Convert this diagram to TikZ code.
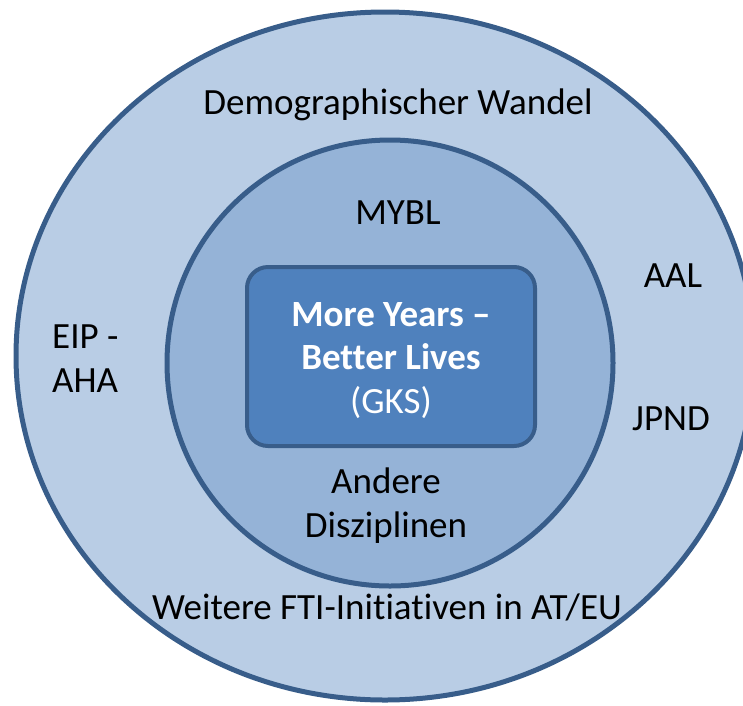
\documentclass[tikz,border=0pt]{standalone}
\usepackage{fontspec}
\setmainfont[Ligatures=NoCommon]{Carlito}
\usepackage{tikz}

\definecolor{ringouter}{HTML}{B9CDE5}
\definecolor{ringinner}{HTML}{95B3D7}
\definecolor{corefill}{HTML}{4F81BD}
\definecolor{ringline}{HTML}{385D8A}

\begin{document}
\begin{tikzpicture}[x=1pt, y=-1pt,
    lbl/.style={font=\fontsize{37}{43.5}\selectfont, inner sep=0pt, anchor=base}]

    \useasboundingbox (0,0) rectangle (743,705);

    % Outer ring: the wider context
    \draw[line width=5, ringline, fill=ringouter] (385,356) ellipse [x radius=369, y radius=344];

    % Inner ring
    \draw[line width=5, ringline, fill=ringinner] (390,363) circle [radius=223];

    % Core box
    \draw[line width=4, ringline, fill=corefill, rounded corners=21] (247,267) rectangle (535,446);

    % Labels of the outer ring (multi-line nodes: base is the last line)
    \node[lbl] (wandel) at (398,114) {Demographischer Wandel};
    \node[lbl] (aal) at (673,287) {AAL};
    \node[lbl, align=left, anchor=base west] (eip) at (52,392) {EIP -\\AHA};
    \node[lbl] (jpnd) at (671,430) {JPND};
    \node[lbl] (fti) at (387,619) {Weitere FTI-Initiativen in AT/EU};

    % Labels of the inner ring
    \node[lbl] (mybl) at (398,224) {MYBL};
    \node[lbl, align=center] (andere) at (386,537) {Andere\\Disziplinen};

    % Label of the core
    \node[lbl, align=center, text=white] (core) at (391,413)
        {\bfseries More Years --\\\bfseries Better Lives\\(GKS)};

\end{tikzpicture}
\end{document}
